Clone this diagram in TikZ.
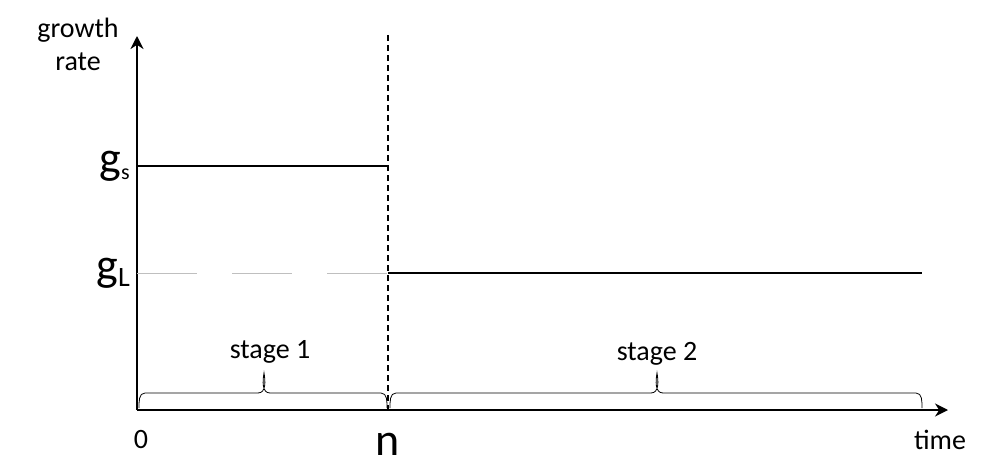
\documentclass[tikz,border=0pt]{standalone}
\usepackage{fontspec}
\setmainfont{Carlito}
\usetikzlibrary{arrows.meta}
\begin{document}
\begin{tikzpicture}[x=1pt,y=1pt,
  lbl/.style={inner sep=0pt,font=\fontsize{28}{33}\selectfont},
  big/.style={inner sep=0pt,font=\fontsize{46}{50}\selectfont},
  brc/.style={draw,line width=0.8pt}]
\useasboundingbox (0,0) rectangle (1000,472);
\coordinate (o) at (137,62);
\coordinate (ytop) at (137,436);
\coordinate (xend) at (948,62);
\draw[line width=2.2pt,-{Stealth[length=13pt,width=13pt]}] (o) -- (ytop);
\draw[line width=2.2pt,-{Stealth[length=13pt,width=13pt]}] (o) -- (xend);
\coordinate (nt) at (388,437);
\coordinate (nb) at (388,62);
\draw[line width=1.2pt,dash pattern=on 6pt off 4pt] (nt) -- (nb);
\coordinate (gs0) at (137,306); \coordinate (gs1) at (388,306);
\draw[line width=1.2pt] (gs0) -- (gs1);
\coordinate (gl0) at (137,199); \coordinate (gl2) at (922,199);
\draw[gray!50,line width=0.8pt,dash pattern=on 60pt off 35pt] (gl0) -- (nb |- gl0);
\draw[line width=1.2pt] (nb |- gl0) -- (gl2);
\draw[brc] (139,64) to[out=90,in=180] (145,79) -- (258,79) to[out=0,in=-80] (264,99) to[out=-100,in=180] (270,79) -- (381,79) to[out=0,in=90] (387,64);
\draw[brc] (390,64) to[out=90,in=180] (396,79) -- (651,79) to[out=0,in=-80] (657,99) to[out=-100,in=180] (663,79) -- (916,79) to[out=0,in=90] (922,64);
\node[lbl,align=center] (gr) at (78,428) {growth\\rate};
\node[big,anchor=east] (gs) at (130,306) {g\raisebox{-6pt}{\fontsize{22}{24}\selectfont s}};
\node[big,anchor=east] (gL) at (130,199) {g\raisebox{-6pt}{\fontsize{28}{30}\selectfont L}};
\node[lbl] (zero) at (141,32) {0};
\node[big] (n) at (388,28) {n};
\node[lbl] (time) at (940,32) {time};
\node[lbl] (s1) at (270,120) {stage 1};
\node[lbl] (s2) at (657,118) {stage 2};
\end{tikzpicture}
\end{document}
